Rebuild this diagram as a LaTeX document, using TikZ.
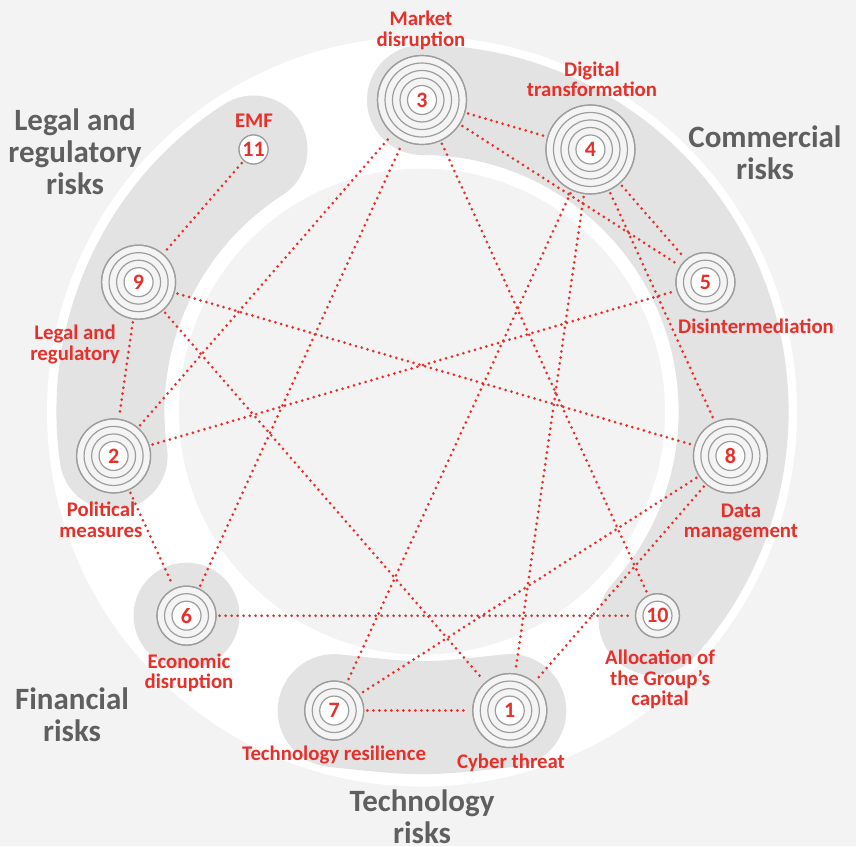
\documentclass[tikz,border=0pt]{standalone}
\usepackage{fontspec}
\setmainfont{Carlito}
\definecolor{bgc}{HTML}{F3F3F3}
\definecolor{bandc}{HTML}{E3E3E3}
\definecolor{ringfill}{HTML}{F4F4F4}
\definecolor{ringc}{HTML}{9D9D9D}
\definecolor{vred}{HTML}{E8302B}
\definecolor{catgrey}{HTML}{5F5F5F}
\begin{document}
\begin{tikzpicture}[x=1pt,y=-1pt,
  bandline/.style={draw=bandc, line cap=round},
  ringnode/.style={circle, draw=ringc, line width=1.2pt, fill=ringfill, inner sep=0pt},
  ringdraw/.style={draw=ringc, line width=1.2pt},
  numtxt/.style={text=vred, font=\bfseries\fontsize{22}{22}\selectfont, inner sep=0pt},
  reddots/.style={draw=vred, line width=3pt, line cap=round, dash pattern=on 0pt off 6pt, shorten <=3pt, shorten >=3pt},
  redlbl/.style={text=vred, font=\bfseries\fontsize{20.8}{20.5}\selectfont, align=center, anchor=base, inner sep=0pt},
  catlbl/.style={text=catgrey, font=\bfseries\fontsize{31}{32}\selectfont, align=center, anchor=base, inner sep=0pt}]
\useasboundingbox (0,0) rectangle (856,846);
\fill[bgc] (0,0) rectangle (856,846);
\coordinate (C) at (422,411.6);
\fill[white] (C) circle[radius=375];
\fill[bgc] (C) circle[radius=243];
% grey bands
\begin{scope}[shift={(C)}]
  \draw[bandline, line width=110pt] (-90:311.6) arc[start angle=-90, end angle=42, radius=311.6];
  \draw[bandline, line width=108pt] (171.82:311.6) arc[start angle=171.82, end angle=237.27, radius=311.6];
  \fill[bandc] (139.09:311.6) circle[radius=53];
\end{scope}
\draw[bandline, line width=113pt] (334.2,710.6) .. controls (422,720) .. (509.8,710.6);
% ring nodes
\begin{scope}[shift={(C)}]
  \foreach \nm/\k/\cnt in {3/0/5, 4/1/5, 5/2/3, 8/3/4, 10/4/2, 1/5/4, 7/6/3, 6/7/3, 2/8/4, 9/9/4, 11/10/1} {
    \pgfmathsetmacro\ang{-90+32.72727*\k}
    \pgfmathsetmacro\dia{2*(14.5+7.5*(\cnt-1))}
    \node[ringnode, minimum size=\dia pt] (n\nm) at (\ang:311.6) {};
    \fill[white] (n\nm.center) circle[radius=14.5];
    \foreach \j in {1,...,\cnt} {
      \pgfmathsetmacro\rr{14.5+7.5*(\j-1)}
      \draw[ringdraw] (n\nm.center) circle[radius=\rr];
    }
    \node[numtxt] at (n\nm.center) {\nm};
  }
\end{scope}
% connectors
\foreach \a/\b in {11/9, 9/2, 2/6, 9/8, 9/1, 2/3, 2/5, 6/3, 6/10, 3/4, 3/5, 3/10, 4/5, 4/8, 4/7, 4/1, 8/7, 8/1, 7/1}
  \draw[reddots] (n\a) -- (n\b);
% labels (base = baseline of last line)
\node[redlbl] (l3) at (421,46) {Market\\disruption};
\node[redlbl] (l4) at (592,96.5) {Digital\\transformation};
\node[redlbl] (l5) at (756,333) {Disintermediation};
\node[redlbl] (l8) at (741,537.5) {Data\\management};
\node[redlbl] (l10) at (660,705.5) {Allocation of\\the Group’s\\capital};
\node[redlbl] (l1) at (511,768) {Cyber threat};
\node[redlbl] (l7) at (334,760) {Technology resilience};
\node[redlbl] (l6) at (189,688.5) {Economic\\disruption};
\node[redlbl] (l2) at (101,537) {Political\\measures};
\node[redlbl] (l9) at (75,360) {Legal and\\regulatory};
\node[redlbl] (l11) at (254,127) {EMF};
\node[catlbl] (c1) at (75,194) {Legal and\\regulatory\\risks};
\node[catlbl] (c2) at (765,179) {Commercial\\risks};
\node[catlbl] (c3) at (72,741) {Financial\\risks};
\node[catlbl] (c4) at (422,843) {Technology\\risks};
\end{tikzpicture}
\end{document}
